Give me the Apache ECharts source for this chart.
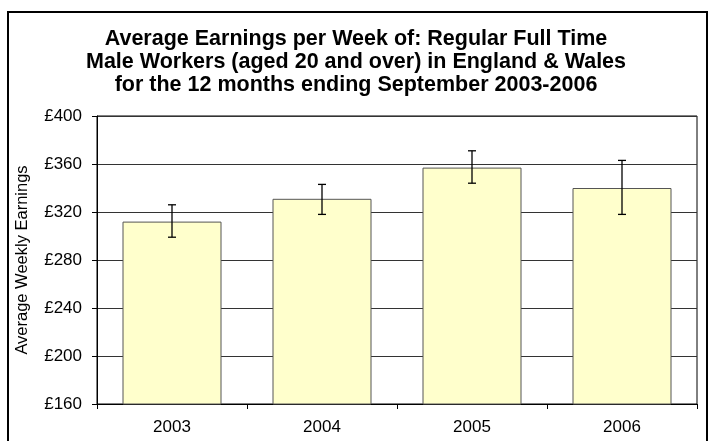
<!DOCTYPE html>
<html>
<head>
<meta charset="utf-8">
<script src="https://cdn.jsdelivr.net/npm/echarts@6/dist/echarts.min.js"></script>
<style>
  html, body { margin: 0; padding: 0; background: #fff; }
  #chart { width: 709px; height: 441px; }
</style>
</head>
<body>
<div id="chart"></div>
<script>
const years = ["2003", "2004", "2005", "2006"];
const earnings = [312, 331, 357, 340];
const errLow = [299, 318, 344, 318];
const errHigh = [326, 343, 371, 363];
const yTicks = [160, 200, 240, 280, 320, 360, 400];

const font = "Arial, 'Liberation Sans', sans-serif";
let chart = echarts.init(document.getElementById("chart"));

let errData = years.map((y, i) => [i, errLow[i], errHigh[i]]);

let option = {
  animation: false,
  backgroundColor: "#fff",
  title: {
    text: "Average Earnings per Week of: Regular Full Time\nMale Workers (aged 20 and over) in England & Wales\nfor the 12 months ending September 2003-2006",
    left: 356,
    textAlign: "center",
    top: 28,
    padding: 0,
    textStyle: {
      fontFamily: font,
      fontWeight: "bold",
      fontSize: 21.5,
      lineHeight: 23,
      color: "#000",
    },
  },
  graphic: [
    {
      type: "rect",
      shape: { x: 8, y: 12, width: 699, height: 440 },
      style: { fill: "none", stroke: "#000", lineWidth: 2 },
      silent: true,
    },
  ],
  grid: {
    left: 97,
    right: 12,
    top: 116,
    bottom: 37,
    show: true,
    borderColor: "#000",
    borderWidth: 1,
  },
  xAxis: {
    type: "category",
    data: years,
    axisLine: { lineStyle: { color: "#000" } },
    axisTick: { show: true, length: 5, lineStyle: { color: "#000" } },
    axisLabel: { fontFamily: font, fontSize: 17, color: "#000", margin: 15 },
  },
  yAxis: {
    type: "value",
    min: 160,
    max: 400,
    interval: 40,
    name: "Average Weekly Earnings",
    nameLocation: "middle",
    nameGap: 66,
    nameTextStyle: { fontFamily: font, fontSize: 16.5, color: "#000" },
    axisLine: { show: true, lineStyle: { color: "#000" } },
    axisTick: { show: true, length: 5, lineStyle: { color: "#000" } },
    axisLabel: {
      fontFamily: font,
      fontSize: 17,
      color: "#000",
      margin: 15,
      formatter: (v) => (yTicks.includes(v) ? "£" + v : ""),
    },
    splitLine: { lineStyle: { color: "#333", width: 1 } },
  },
  series: [
    {
      type: "bar",
      data: earnings,
      barWidth: "66%",
      itemStyle: { color: "#FFFFCC", borderColor: "#555", borderWidth: 1 },
    },
    {
      type: "custom",
      data: errData,
      z: 10,
      renderItem: function (params, api) {
        let x = api.value(0);
        let lo = api.coord([x, api.value(1)]);
        let hi = api.coord([x, api.value(2)]);
        let cap = 4;
        let st = { stroke: "#000", lineWidth: 1.3 };
        return {
          type: "group",
          children: [
            { type: "line", shape: { x1: hi[0], y1: hi[1], x2: lo[0], y2: lo[1] }, style: st },
            { type: "line", shape: { x1: hi[0] - cap, y1: hi[1], x2: hi[0] + cap, y2: hi[1] }, style: st },
            { type: "line", shape: { x1: lo[0] - cap, y1: lo[1], x2: lo[0] + cap, y2: lo[1] }, style: st },
          ],
        };
      },
    },
  ],
};
chart.setOption(option);
</script>
</body>
</html>
